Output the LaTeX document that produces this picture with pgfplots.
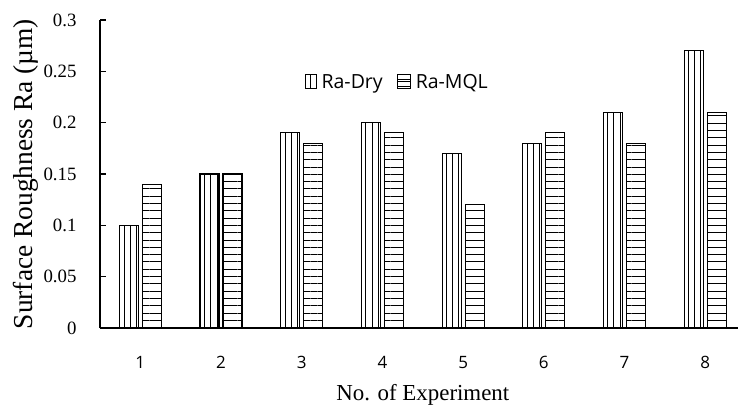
\documentclass[border=0pt]{standalone}
\usepackage{pgfplots}
\pgfplotsset{compat=1.18}
\usepackage{fontspec}
\setmainfont{Liberation Serif}
\newfontfamily\legfont{Open Sans}
\usetikzlibrary{patterns.meta}
\begin{document}
\begin{tikzpicture}
\useasboundingbox (0,0) rectangle (738bp,408bp);
\begin{axis}[
  at={(100bp,80bp)}, anchor=origin,
  scale only axis,
  width=645.6bp, height=308bp,
  xmin=0.5, xmax=8.5,
  ymin=0, ymax=0.3,
  axis x line*=bottom, axis y line*=left,
  axis line style={line width=1.2bp, black},
  tick align=inside,
  major tick length=6bp,
  every tick/.style={line width=1.1bp, black},
  xtick={1,2,3,4,5,6,7,8},
  xticklabels={1,2,3,4,5,6,7,8},
  x tick style={draw=none},
  xticklabel style={font=\legfont\fontsize{17bp}{20bp}\selectfont, yshift=-19bp},
  ytick={0,0.05,0.1,0.15,0.2,0.25,0.3},
  yticklabels={0,0.05,0.1,0.15,0.2,0.25,0.3},
  yticklabel style={font=\fontsize{18.8bp}{21bp}\selectfont, xshift=-20bp},
  xlabel={No. of Experiment},
  xlabel style={font=\fontsize{22.9bp}{25bp}\selectfont, at={(axis description cs:0.5,0)}, anchor=center, yshift=-67bp},
  ylabel={Surface Roughness Ra (µm)},
  ylabel style={font=\fontsize{27.4bp}{30bp}\selectfont, at={(axis description cs:-0.1146,0.5)}, anchor=center},
  ybar=4bp,
  bar width=19bp,
  legend columns=2,
  legend style={draw=none, fill=none, font=\legfont\fontsize{19.5bp}{22bp}\selectfont,
    at={(axis description cs:0.312,0.799)}, anchor=west,
    /tikz/every even column/.append style={column sep=12bp},
    /tikz/every odd column/.append style={column sep=3bp}},
]
\addplot[draw=black, line width=1.1bp,
  pattern={Lines[angle=90,distance=6.2bp,line width=1bp]}, pattern color=black,
  legend image code/.code={
    \draw[line width=1bp] (0bp,-7bp) rectangle (11bp,7bp);
    \draw[line width=1bp] (5.5bp,-7bp) -- (5.5bp,7bp);
  }]
  coordinates {(1,0.10) (2,0.15) (3,0.19) (4,0.20) (5,0.17) (6,0.18) (7,0.21) (8,0.27)};
\addlegendentry{Ra-Dry}
\addplot[draw=black, line width=1.1bp,
  pattern={Lines[angle=0,distance=7.3bp,line width=1bp]}, pattern color=black,
  legend image code/.code={
    \draw[line width=1bp] (0bp,-7bp) rectangle (13bp,7bp);
    \draw[line width=1bp] (0bp,0bp) -- (13bp,0bp);
  }]
  coordinates {(1,0.14) (2,0.15) (3,0.18) (4,0.19) (5,0.12) (6,0.19) (7,0.18) (8,0.21)};
\addlegendentry{Ra-MQL}
\end{axis}
\end{tikzpicture}
\end{document}
